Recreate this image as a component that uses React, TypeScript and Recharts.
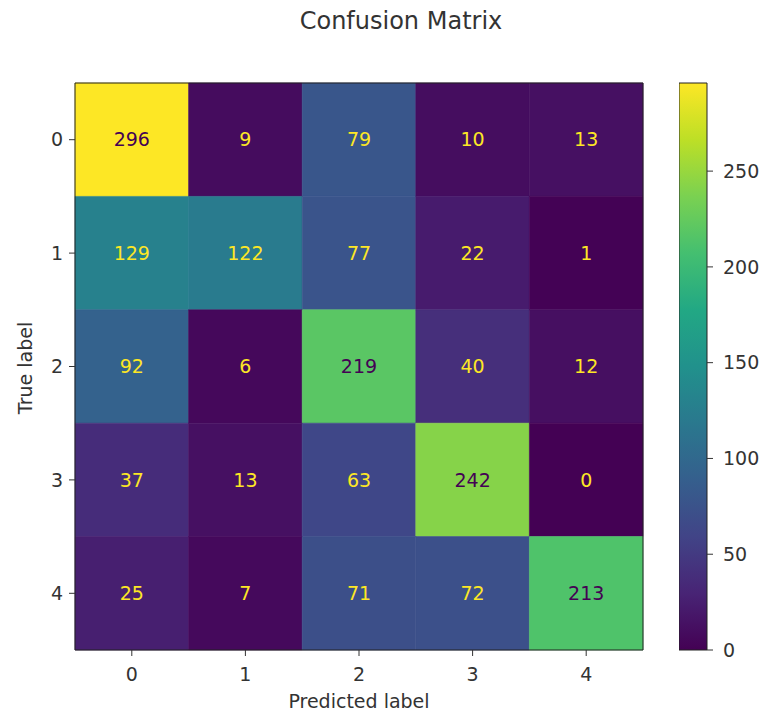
import React from 'react'
import {
  ScatterChart, Scatter, XAxis, YAxis, ReferenceArea,
  BarChart, Bar,
} from 'recharts'

const labels = [0, 1, 2, 3, 4]
// rows = true label, columns = predicted label
const row0 = [296, 9, 79, 10, 13]
const row1 = [129, 122, 77, 22, 1]
const row2 = [92, 6, 219, 40, 12]
const row3 = [37, 13, 63, 242, 0]
const row4 = [25, 7, 71, 72, 213]
const rows = [row0, row1, row2, row3, row4]
const colorbarTicks = [0, 50, 100, 150, 200, 250]

// viridis stops at 0, 0.1 ... 1
const VIRIDIS = ['#440154', '#482475', '#414487', '#355f8d', '#2a788e', '#21918c', '#22a884', '#44bf70', '#7ad151', '#bddf26', '#fde725']

const FONT = '"DejaVu Sans", sans-serif'
const INK = '#333'

const hex = (h: string) => [1, 3, 5].map(i => parseInt(h.slice(i, i + 2), 16))

function viridis(t: number) {
  const v = Math.max(0, Math.min(1, t)) * 10
  const i = Math.min(9, Math.floor(v))
  const f = v - i
  const a = hex(VIRIDIS[i])
  const b = hex(VIRIDIS[i + 1])
  const c = a.map((x, k) => Math.round(x + (b[k] - x) * f))
  return `rgb(${c[0]},${c[1]},${c[2]})`
}

const flat = rows.flat()
const vmin = Math.min(...flat)
const vmax = Math.max(...flat)
const threshold = (vmin + vmax) / 2

const cells = rows.flatMap((r, i) => r.map((v, j) => ({ x: j, y: i, v })))

export default function App() {
  return (
    <div style={{ position: 'absolute', left: 0, top: 0, width: 762, height: 717, background: '#fff', fontFamily: FONT }}>
      <svg width={0} height={0} style={{ position: 'absolute' }}>
        <defs>
          <linearGradient id="viridisBar" x1="0" y1="1" x2="0" y2="0">
            {VIRIDIS.map((c, i) => <stop key={i} offset={`${i * 10}%`} stopColor={c} />)}
          </linearGradient>
        </defs>
      </svg>

      <div style={{ position: 'absolute', left: 0, top: 0, width: 802, textAlign: 'center', fontSize: 24, color: INK, lineHeight: '24px', paddingTop: 9 }}>
        Confusion Matrix
      </div>

      <div style={{ position: 'absolute', left: 0, top: 0 }}>
        <ScatterChart width={762} height={717} margin={{ top: 83, right: 119, bottom: 7, left: 0 }}>
          <XAxis
            type="number" dataKey="x" domain={[-0.5, 4.5]} ticks={labels}
            allowDataOverflow height={60} axisLine={false}
            tickSize={6} tickMargin={12} tick={{ fill: INK, fontSize: 19 }} tickLine={{ stroke: INK }}
            label={{ value: 'Predicted label', position: 'insideBottom', offset: 2, fill: INK, fontSize: 19 }}
          />
          <YAxis
            type="number" dataKey="y" domain={[-0.5, 4.5]} ticks={labels} reversed
            allowDataOverflow width={75} axisLine={false}
            tickSize={6} tickMargin={6} tick={{ fill: INK, fontSize: 19 }} tickLine={{ stroke: INK }}
            label={{
              content: () => (
                <text x={25} y={368} transform="rotate(-90, 25, 368)" textAnchor="middle" dominantBaseline="central" fill={INK} fontSize={19}>
                  True label
                </text>
              ),
            }}
          />
          {cells.map(c => {
            const color = viridis((c.v - vmin) / (vmax - vmin))
            return (
              <ReferenceArea
                key={`${c.x}-${c.y}`}
                x1={c.x - 0.5} x2={c.x + 0.5} y1={c.y - 0.5} y2={c.y + 0.5}
                fill={color} fillOpacity={1} stroke={color} strokeWidth={0.6}
                label={{ value: String(c.v), position: 'center', fill: c.v >= threshold ? VIRIDIS[0] : VIRIDIS[10], fontSize: 19 }}
              />
            )
          })}
          <ReferenceArea x1={-0.5} x2={4.5} y1={-0.5} y2={4.5} fill="none" stroke="#222" strokeWidth={1} />
          <Scatter data={cells} isAnimationActive={false} shape={() => <g />} />
        </ScatterChart>
      </div>

      <div style={{ position: 'absolute', left: 679, top: 0 }}>
        <BarChart width={83} height={717} data={[{ name: 'cb', v: vmax }]} margin={{ top: 83, right: 0, bottom: 67, left: 0 }} barCategoryGap={0}>
          <XAxis hide dataKey="name" />
          <YAxis
            orientation="right" domain={[0, vmax]} ticks={colorbarTicks} width={55}
            axisLine={false} tickSize={6} tickMargin={10}
            tick={{ fill: INK, fontSize: 19, textAnchor: 'start' }} tickLine={{ stroke: INK }}
          />
          <Bar dataKey="v" fill="url(#viridisBar)" stroke="#222" strokeWidth={1} isAnimationActive={false} />
        </BarChart>
      </div>
    </div>
  )
}
